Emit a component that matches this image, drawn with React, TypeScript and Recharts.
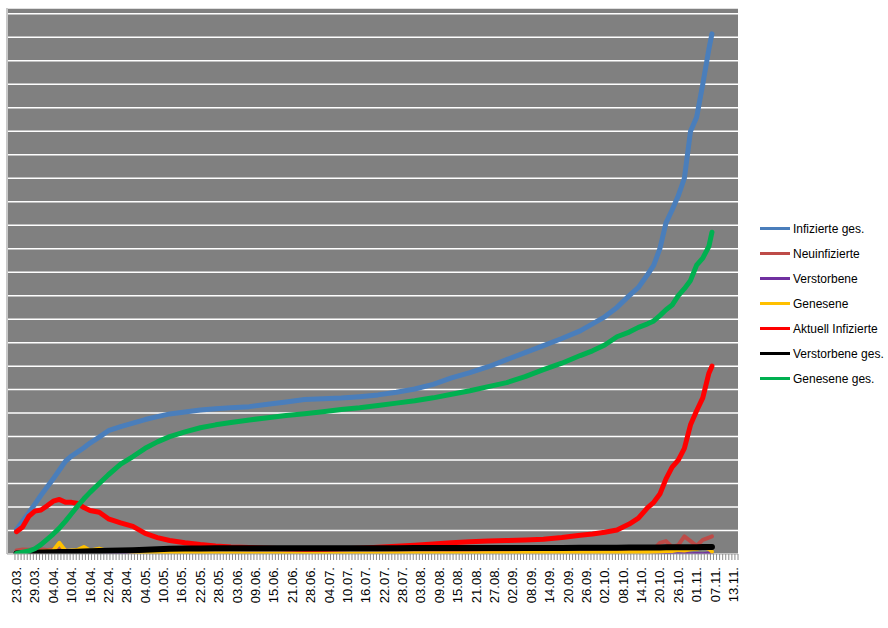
import { LineChart, Line, XAxis, YAxis, CartesianGrid, Legend, ReferenceLine } from "recharts";

// day index counted from 23.03. (category position on the axis)
const SAMPLE_DAYS = [
  0, 2, 4, 6, 8, 10, 12, 14, 16, 18, 20, 22, 24, 27, 30, 34, 38, 42, 46, 50,
  55, 60, 65, 70, 76, 82, 88, 94, 100, 106, 112, 118, 124, 130, 136, 142, 148, 154, 160, 166,
  172, 178, 184, 188, 192, 196, 200, 203, 206, 208, 210, 212, 214, 216, 218, 220, 222, 224, 226, 227,
];

const INFIZIERTE_GES = [
  205, 280, 350, 425, 500, 570, 640, 715, 790, 835, 870, 905, 945, 995, 1050, 1085, 1115, 1145, 1170, 1193,
  1210, 1227, 1238, 1245, 1255, 1275, 1295, 1315, 1322, 1328, 1340, 1355, 1378, 1405, 1445, 1500, 1545, 1595, 1655, 1715,
  1775, 1835, 1900, 1960, 2020, 2100, 2200, 2270, 2380, 2460, 2600, 2820, 2930, 3050, 3200, 3600, 3720, 4000, 4300, 4430,
];

const NEUINFIZIERTE = [
  30, 38, 36, 38, 40, 35, 38, 37, 30, 22, 18, 18, 20, 17, 15, 9, 8, 7, 6, 5,
  3, 3, 2, 1, 2, 3, 3, 3, 1, 1, 2, 3, 4, 5, 7, 9, 8, 9, 10, 10,
  10, 11, 12, 15, 15, 22, 28, 30, 45, 40, 95, 110, 60, 75, 150, 110, 70, 120, 140, 150,
];

const VERSTORBENE = [
  0, 1, 0, 1, 1, 1, 0, 1, 1, 0, 1, 1, 0, 1, 1, 0, 1, 1, 0, 0,
  0, 0, 0, 0, 0, 0, 0, 0, 0, 0, 0, 0, 0, 0, 0, 0, 0, 0, 0, 0,
  0, 0, 0, 0, 0, 0, 0, 0, 0, 0, 1, 0, 3, 1, 4, 2, 5, 3, 8, 6,
];

const GENESENE = [
  0, 5, 5, 15, 20, 25, 30, 95, 25, 30, 35, 60, 30, 45, 25, 30, 20, 15, 12, 10,
  8, 6, 5, 4, 3, 3, 3, 2, 3, 3, 3, 3, 4, 4, 5, 5, 5, 6, 7, 8,
  8, 9, 10, 10, 12, 12, 14, 15, 18, 20, 22, 25, 25, 35, 30, 40, 45, 60, 45, 20,
];

const AKTUELL_INFIZIERTE = [
  190, 230, 320, 365, 375, 410, 450, 465, 440, 440, 430, 395, 370, 355, 300, 265, 235, 175, 140, 115,
  95, 80, 68, 60, 55, 50, 45, 40, 40, 45, 50, 58, 66, 75, 85, 95, 105, 110, 115, 120,
  125, 140, 160, 170, 185, 205, 255, 305, 395, 440, 510, 640, 740, 800, 900, 1100, 1220, 1330, 1540, 1600,
];

const VERSTORBENE_GES = [
  5, 6, 8, 10, 12, 14, 15, 16, 17, 18, 20, 22, 24, 26, 28, 30, 32, 36, 40, 44,
  46, 47, 48, 48, 49, 49, 49, 49, 50, 50, 50, 50, 50, 51, 51, 51, 51, 51, 52, 52,
  52, 52, 53, 53, 54, 54, 55, 55, 56, 56, 56, 57, 57, 57, 58, 58, 58, 59, 59, 60,
];

const GENESENE_GES = [
  5, 15, 25, 45, 80, 125, 170, 220, 280, 345, 410, 470, 525, 600, 675, 765, 830, 900, 955, 1000,
  1040, 1075, 1100, 1120, 1142, 1160, 1180, 1195, 1212, 1230, 1245, 1265, 1285, 1305, 1330, 1360, 1390, 1425, 1460, 1510,
  1570, 1625, 1690, 1730, 1780, 1850, 1890, 1930, 1960, 1985, 2030, 2080, 2120, 2200, 2260, 2330, 2460, 2520, 2620, 2740,
];

const TICK_LABELS = [
  "23.03.", "29.03.", "04.04.", "10.04.", "16.04.", "22.04.", "28.04.", "04.05.", "10.05.", "16.05.",
  "22.05.", "28.05.", "03.06.", "09.06.", "15.06.", "21.06.", "28.06.", "04.07.", "10.07.", "16.07.",
  "22.07.", "28.07.", "03.08.", "09.08.", "15.08.", "21.08.", "27.08.", "02.09.", "08.09.", "14.09.",
  "20.09.", "26.09.", "02.10.", "08.10.", "14.10.", "20.10.", "26.10.", "01.11.", "07.11.", "13.11.",
];

const LABEL_STEP = 6;
const LAST_CATEGORY = 235;
const X_MIN = -3.1;

const SERIES = [
  { key: "infGes", name: "Infizierte ges.", color: "#4A7EBB", width: 5, values: INFIZIERTE_GES },
  { key: "neu", name: "Neuinfizierte", color: "#BE4B48", width: 4, values: NEUINFIZIERTE },
  { key: "tot", name: "Verstorbene", color: "#7030A0", width: 3, values: VERSTORBENE },
  { key: "gen", name: "Genesene", color: "#FFC000", width: 4, values: GENESENE },
  { key: "akt", name: "Aktuell Infizierte", color: "#FF0000", width: 5, values: AKTUELL_INFIZIERTE },
  { key: "totGes", name: "Verstorbene ges.", color: "#000000", width: 6, values: VERSTORBENE_GES },
  { key: "genGes", name: "Genesene ges.", color: "#00B050", width: 5, values: GENESENE_GES },
];

const rows = SAMPLE_DAYS.map((day, i) => {
  const row: Record<string, number> = { day };
  SERIES.forEach((s) => {
    row[s.key] = s.values[i];
  });
  return row;
});

// tick marks sit between categories, labels on every 6th category
const BOUNDARY_TICKS = Array.from({ length: LAST_CATEGORY + 2 }, (_, i) => i - 0.5);
const LABEL_DAYS = TICK_LABELS.map((_, i) => i * LABEL_STEP);
const X_TICKS = [...BOUNDARY_TICKS, ...LABEL_DAYS];
const Y_TICKS = Array.from({ length: 47 }, (_, i) => i * 100);

const FONT = '"Liberation Sans", Arial, sans-serif';

function DayTick(props: any) {
  const { x, y, payload } = props;
  const v = payload.value;
  if (Number.isInteger(v)) {
    const ty = y + 13;
    return (
      <text
        x={x}
        y={ty}
        dy="0.35em"
        textAnchor="end"
        transform={`rotate(-90 ${x} ${ty})`}
        fontSize={13}
        fontFamily={FONT}
        fill="#000"
      >
        {TICK_LABELS[v / LABEL_STEP]}
      </text>
    );
  }
  return <line x1={x} x2={x} y1={y} y2={y + 6} stroke="#8c8c8c" strokeWidth={1} />;
}

function LegendList() {
  return (
    <div style={{ fontFamily: FONT, fontSize: 12, color: "#000" }}>
      {SERIES.map((s) => (
        <div key={s.key} style={{ display: "flex", alignItems: "center", height: 25 }}>
          <span style={{ display: "inline-block", width: 30, height: 3, background: s.color, marginRight: 3 }} />
          <span>{s.name}</span>
        </div>
      ))}
    </div>
  );
}

export default function App() {
  return (
    <div style={{ position: "absolute", left: 0, top: 0, background: "#fff" }}>
      <LineChart width={888} height={628} data={rows} margin={{ top: 8, right: 150, bottom: 0, left: 7 }}>
        <CartesianGrid
          vertical={false}
          stroke="#ffffff"
          strokeWidth={1.5}
          fill="#808080"
          fillOpacity={1}
        />
        <XAxis
          dataKey="day"
          type="number"
          domain={[X_MIN, LAST_CATEGORY + 0.5]}
          ticks={X_TICKS}
          interval={0}
          tick={<DayTick />}
          tickLine={false}
          tickSize={0}
          tickMargin={0}
          height={74}
          stroke="#a6a6a6"
          allowDataOverflow
        />
        <YAxis hide type="number" domain={[0, 4650]} ticks={Y_TICKS} allowDataOverflow />
        <ReferenceLine x={X_MIN} stroke="#c8c8c8" strokeWidth={2} />
        {SERIES.map((s) => (
          <Line
            key={s.key}
            dataKey={s.key}
            name={s.name}
            type="linear"
            stroke={s.color}
            strokeWidth={s.width}
            strokeLinecap="round"
            strokeLinejoin="round"
            dot={false}
            activeDot={false}
            isAnimationActive={false}
          />
        ))}
        <Legend
          layout="horizontal"
          verticalAlign="middle"
          align="center"
          content={() => <LegendList />}
          wrapperStyle={{ left: 760, top: 216, width: 128 }}
        />
      </LineChart>
    </div>
  );
}
